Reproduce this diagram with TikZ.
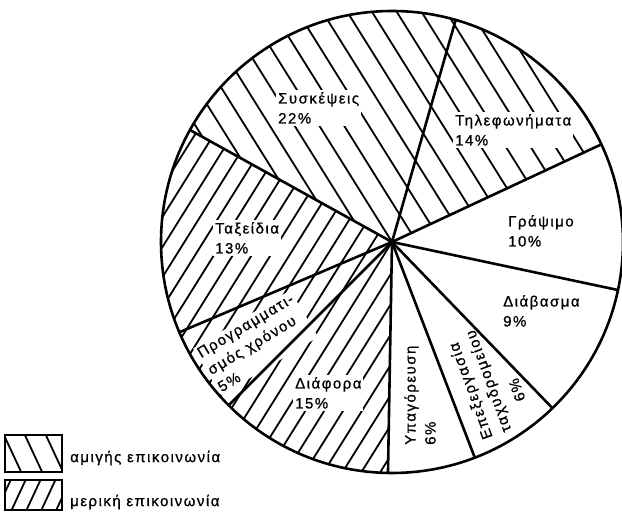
\documentclass[tikz,border=0pt]{standalone}
\usepackage{fontspec}
\newfontfamily\chartfont[LetterSpace=10,FakeBold=0.8]{Liberation Sans}
\usetikzlibrary{calc}

\tikzset{
  edge/.style={line width=2.6pt, line cap=round},
  hatch/.style={line width=1.8pt},
  lbl/.style={font=\chartfont\fontsize{15}{20}\selectfont, align=left, inner sep=2pt, fill=white},
  keytext/.style={font=\chartfont\fontsize{15}{18}\selectfont, inner sep=2pt, anchor=west},
}
% parallel lines through #1: angle #2, gap #3, #4 lines each side
\newcommand{\hatchfill}[4]{%
  \foreach \k in {-#4,...,#4}
    \draw[hatch] ($(#1)+({#2+90}:{\k*#3})+(#2:-240)$) -- ($(#1)+({#2+90}:{\k*#3})+(#2:240)$);}

\begin{document}
\begin{tikzpicture}[x=1pt, y=1pt]
  \useasboundingbox (0,0) rectangle (622,522);
  \coordinate (c) at (392,280);

  % hatching: pure communication
  \begin{scope}
    \clip (c) -- ($(c)+(25:231)$) arc[start angle=25, end angle=151, radius=231] -- cycle;
    \hatchfill{c}{122}{21}{12}
  \end{scope}
  % hatching: partial communication
  \begin{scope}
    \clip (c) -- ($(c)+(151:231)$) arc[start angle=151, end angle=269, radius=231] -- cycle;
    \hatchfill{c}{58}{16}{16}
  \end{scope}

  % labels
  \node[lbl, anchor=north west] (meet) at (276,432) {Συσκέψεις\\22\%};
  \node[lbl, anchor=north west] (phone) at (453,410) {Τηλεφωνήματα\\14\%};
  \node[lbl, anchor=north west] (write) at (506,309) {Γράψιμο\\10\%};
  \node[lbl, anchor=north west] (travel) at (213,302) {Ταξείδια\\13\%};
  \node[lbl, anchor=north west] (read) at (501,229) {Διάβασμα\\9\%};
  \node[lbl, anchor=north west] (misc) at (293,147) {Διάφορα\\15\%};
  \node[lbl, anchor=west, rotate=31] (plan) at (207,150) {Προγραμματι-\\σμός χρόνου\\5\%};
  \node[lbl, anchor=west, rotate=90] (dict) at (420,75) {Υπαγόρευση\\6\%};
  \node[lbl, anchor=west, rotate=110] (mail) at (499,85) {Επεξεργασία\\ταχυδρομείου};
  \node[lbl, rotate=110] (mailp) at (517,132) {6\%};

  % slice edges
  \foreach \a in {74,25,-12,-46,-69,-91,-135,-157,151}
    \draw[edge] (c) -- ($(c)+(\a:231)$);
  \draw[edge] (c) circle (231);
  \fill (c) circle (3.5);

  % key
  \begin{scope}
    \clip (5,50) rectangle (62,87);
    \hatchfill{33.5,68.5}{115}{19}{3}
  \end{scope}
  \draw[line width=2pt] (5,50) rectangle (62,87);
  \begin{scope}
    \clip (5,12) rectangle (62,42);
    \hatchfill{33.5,27}{65}{13.5}{5}
  \end{scope}
  \draw[line width=2pt] (5,12) rectangle (62,42);
  \node[keytext] (pure) at (68,64) {αμιγής επικοινωνία};
  \node[keytext] (part) at (68,20) {μερική επικοινωνία};
\end{tikzpicture}
\end{document}
